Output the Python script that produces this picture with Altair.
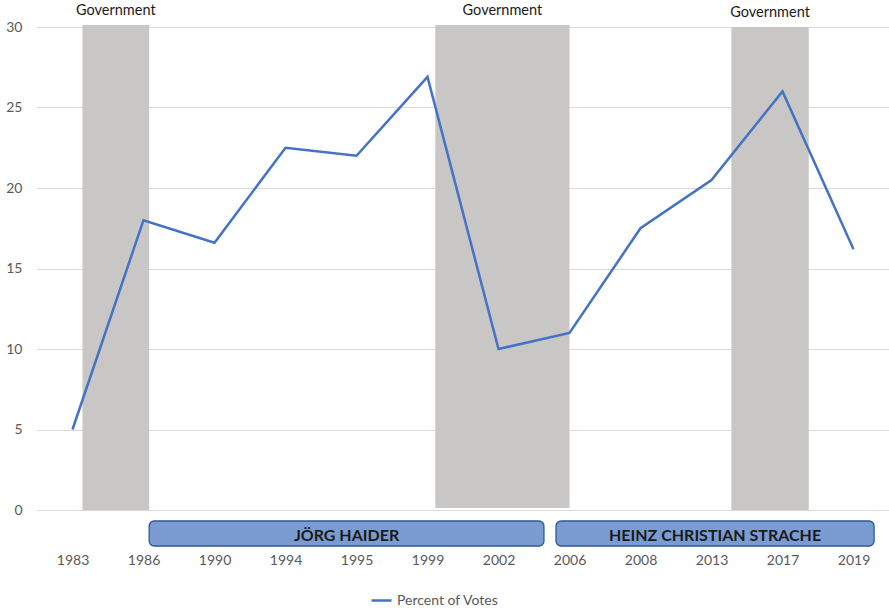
import altair as alt
import pandas as pd

years = ["1983", "1986", "1990", "1994", "1995", "1999", "2002", "2006", "2008", "2013", "2017", "2019"]
votes = [5.0, 18.0, 16.6, 22.5, 22.0, 26.9, 10.0, 11.0, 17.5, 20.5, 26.0, 16.2]

# government periods (in category-index units)
gov_start = [0.14, 5.11, 9.28]
gov_end = [1.08, 7.0, 10.37]
gov_top = [30.12, 30.12, 30.0]
gov_bottom = [0.0, 0.12, 0.0]
gov_label = ["Government", "Government", "Government"]

# party leaders
leader_name = ["JÖRG HAIDER", "HEINZ CHRISTIAN STRACHE"]
leader_start = [1.08, 6.81]
leader_end = [6.64, 11.29]

line_df = pd.DataFrame({"idx": list(range(len(years))), "year": years, "votes": votes,
                        "series": ["Percent of Votes"] * len(years)})
gov_df = pd.DataFrame({"x0": gov_start, "x1": gov_end, "y0": gov_bottom, "y1": gov_top,
                       "label": gov_label})
gov_df["xm"] = (gov_df["x0"] + gov_df["x1"]) / 2
lead_df = pd.DataFrame({"name": leader_name, "x0": leader_start, "x1": leader_end})
lead_df["xm"] = (lead_df["x0"] + lead_df["x1"]) / 2

FONT = "Lato"
label_expr = "[" + ",".join(f"'{y}'" for y in years) + "][datum.value]"

xscale = alt.Scale(domain=[-0.5, len(years) - 0.5], nice=False, zero=False)
yscale = alt.Scale(domain=[0, 30], nice=False)

xaxis = alt.Axis(values=list(range(len(years))), labelExpr=label_expr, title=None,
                 grid=False, ticks=False, domain=False, labelPadding=43,
                 labelFont=FONT, labelFontSize=14, labelColor="#595959")
yaxis = alt.Axis(values=[0, 5, 10, 15, 20, 25, 30], title=None, grid=True,
                 gridColor="#D9D9D9", gridWidth=1, ticks=False, domain=False,
                 labelPadding=15, labelFont=FONT, labelFontSize=14, labelColor="#595959")

gov_rect = alt.Chart(gov_df).mark_rect(color="#C9C7C5").encode(
    x=alt.X("x0:Q", scale=xscale, axis=xaxis),
    x2="x1:Q",
    y=alt.Y("y0:Q", scale=yscale, axis=yaxis),
    y2="y1:Q",
)

gov_text = alt.Chart(gov_df).mark_text(font=FONT, fontSize=14.5, color="#1A1A1A",
                                       baseline="middle", dy=-14).encode(
    x=alt.X("xm:Q", scale=xscale),
    y=alt.Y("y1:Q", scale=yscale),
    text="label:N",
)

lead_rect = alt.Chart(lead_df).mark_rect(fill="#7A9CD2", stroke="#2F5597", strokeWidth=1.3,
                                         cornerRadius=5).encode(
    x=alt.X("x0:Q", scale=xscale),
    x2="x1:Q",
    y=alt.value(494),
    y2=alt.value(519),
)

lead_text = alt.Chart(lead_df).mark_text(font=FONT, fontSize=16, fontWeight="bold",
                                         color="#1A1A1A", baseline="middle", dy=2).encode(
    x=alt.X("xm:Q", scale=xscale),
    y=alt.value(507),
    text="name:N",
)

line = alt.Chart(line_df).mark_line(strokeWidth=2.5).encode(
    x=alt.X("idx:Q", scale=xscale),
    y=alt.Y("votes:Q", scale=yscale),
    color=alt.Color("series:N", scale=alt.Scale(range=["#4472C4"]),
                    legend=alt.Legend(title=None, orient="none", legendX=333, legendY=562,
                                      symbolType="stroke", symbolStrokeWidth=2.5,
                                      symbolSize=400, labelFont=FONT, labelFontSize=14,
                                      labelColor="#595959")),
)

chart = alt.layer(gov_rect, gov_text, lead_rect, lead_text, line).properties(
    width=852, height=483,
    padding={"left": 37, "top": 27, "right": 0, "bottom": 100},
    autosize=alt.AutoSizeParams(type="none"),
).configure_view(stroke=None)

chart.save("out.html", embed_options={"renderer": "svg", "actions": False})
